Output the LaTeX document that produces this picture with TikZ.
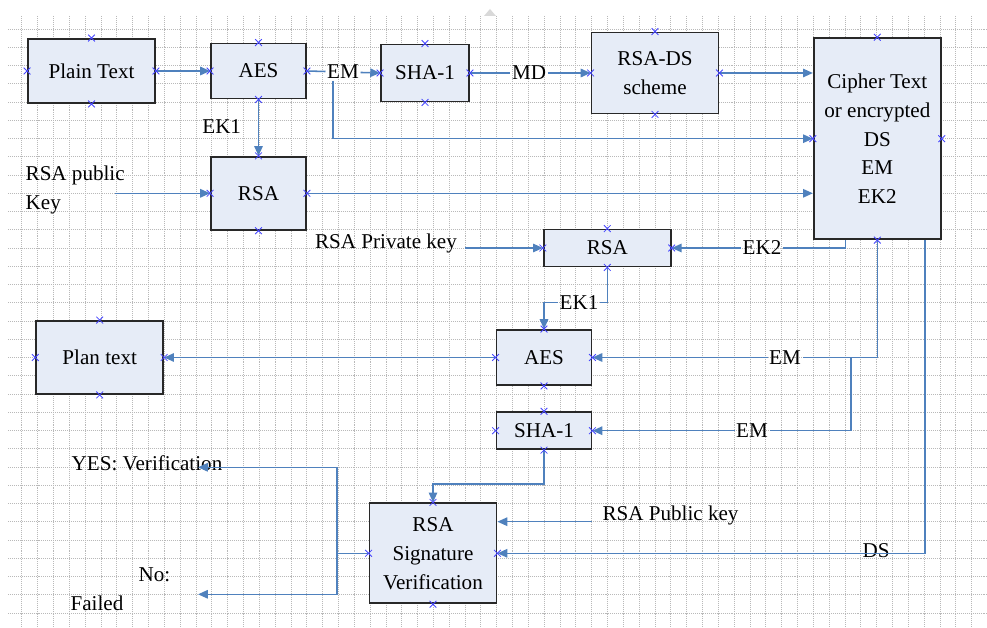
\documentclass[tikz,border=0pt]{standalone}
\usepackage{fontspec}
\setmainfont{Liberation Serif}
\usetikzlibrary{arrows.meta,shapes.misc}
\definecolor{boxfill}{RGB}{230,236,247}
\definecolor{boxline}{RGB}{40,40,40}
\definecolor{linkblue}{RGB}{79,129,189}
\definecolor{ptblue}{RGB}{70,70,255}
\tikzset{
    blk/.style={
        draw=boxline,line width=1.3pt,
        fill=boxfill,
        inner sep=0pt,align=center,
        font=\fontsize{15}{20.6}\selectfont
    },
    sz/.style 2 args={minimum width=#1*0.025cm,minimum height=#2*0.025cm},
    lbl/.style={inner sep=1pt,font=\fontsize{15}{20.6}\selectfont},
    link/.style={draw=linkblue,line width=1.1pt},
    >={Triangle[length=7pt,width=6pt]},
    cpt/.style={cross out,draw=ptblue,line width=0.6pt,minimum size=4.2pt,inner sep=0pt},
    gridln/.style={gray!55,line width=0.4pt,densely dotted},
}

\begin{document}
\begin{tikzpicture}[x=0.025cm,y=-0.025cm]
		\useasboundingbox (0,0) rectangle (987,628);
		% grid of the drawing page
		\foreach \gx in {21.7,37.53,...,987}
		\draw[gridln] (\gx,16) -- (\gx,628);
		\foreach \gy in {29,47.25,...,628}
		\draw[gridln] (8,\gy) -- (987,\gy);
		\fill[gray!30] (484,16) -- (490,9) -- (496,16) -- cycle;

		% sender side
		\node[blk,sz={127}{64}] (pt) at (91.5,71) {Plain Text};
		\node[blk,sz={95}{55}] (aes1) at (258.5,71) {AES};
		\node[blk,sz={88}{57}] (sha1) at (425,73) {SHA-1};
		\node[blk,sz={127}{81}] (rsads) at (655,73) {RSA-DS\\scheme};
		\node[blk,sz={127}{201}] (cipher) at (877.3,138.7) {Cipher Text\\or encrypted\\DS\\EM\\EK2};
		\node[blk,sz={95}{73}] (rsa1) at (258.5,193.3) {RSA};
		% receiver side
		\node[blk,sz={127}{37}] (rsa2) at (607.3,248) {RSA};
		\node[blk,sz={127}{73}] (plan) at (99.7,357.5) {Plan text};
		\node[blk,sz={95}{55}] (aes2) at (544,357.5) {AES};
		\node[blk,sz={95}{37}] (sha2) at (544,430.7) {SHA-1};
		\node[blk,sz={127}{100}] (rsv) at (433,553.3) {RSA\\Signature\\Verification};

		% labels
		\node[lbl] (em1) at (343,72) {EM};
		\node[lbl] (md) at (529,73) {MD};
		\node[lbl] (ek1a) at (221.7,126.7) {EK1};
		\node[lbl,anchor=west,align=left] (pubkey) at (24,190) {RSA public\\Key};
		\node[lbl] (privkey) at (386,243) {RSA Private key};
		\node[lbl] (ek2) at (762,248) {EK2};
		\node[lbl] (ek1b) at (579,302.7) {EK1};
		\node[lbl] (em2) at (785,357.5) {EM};
		\node[lbl] (em3) at (752,430.7) {EM};
		\node[lbl] (rsapub) at (670.5,515) {RSA Public key};
		\node[lbl] (ds) at (876,551) {DS};
		\node[lbl] (yes) at (147,463.3) {YES: Verification};
		\node[lbl] (no) at (154.5,575) {No:};
		\node[lbl] (failed) at (97,603.3) {Failed};

		\coordinate (pubin) at (115,193.3);
		\coordinate (privin) at (465,248);
		\coordinate (pubin2) at (591.7,521.7);
		\coordinate (emsplit) at (851,357.5);
		\coordinate (yesend) at (198,467.3);
		\coordinate (noend) at (198,594.3);

		% connectors
		\draw[link,->] (pt.east) -- (aes1.west);
		\draw[link] (aes1.east) -- (em1);
		\draw[link,->] (em1) -- (sha1.west);
		\draw[link,->] ([xshift=-0.25cm]em1.south) |- (cipher.west);
		\draw[link] (sha1.east) -- (md);
		\draw[link,->] (md) -- (rsads.west);
		\draw[link,->] (rsads.east) -- (rsads.east -| cipher.west);
		\draw[link,->] (aes1.south) -- (rsa1.north);
		\draw[link,->] (pubin) -- (rsa1.west);
		\draw[link,->] (rsa1.east) -- (rsa1.east -| cipher.west);

		\draw[link] ([xshift=-0.79cm]cipher.south) |- (ek2);
		\draw[link,->] (ek2) -- (rsa2.east);
		\draw[link,->] (privin) -- (rsa2.west);
		\draw[link] (rsa2.south) |- (ek1b);
		\draw[link,->] (ek1b) -| (aes2.north);
		\draw[link] (cipher.south) |- (em2);
		\draw[link,->] (em2) -- (aes2.east);
		\draw[link] (emsplit) |- (em3);
		\draw[link,->] (em3) -- (sha2.east);
		\draw[link,->] ([xshift=1.19cm]cipher.south) |- (rsv.east);
		\draw[link,->] (aes2.west) -- (plan.east);
		\draw[link,->] (sha2.south) |- ([yshift=0.46cm]rsv.north) -- (rsv.north);
		\draw[link,->] (pubin2) -- (pubin2 -| rsv.east);
		\draw[link] (rsv.west) -- ++(-31.6,0) coordinate (vsplit);
		\draw[link,->] (vsplit) |- (yesend);
		\draw[link,->] (vsplit) |- (noend);

		% connection points
		\foreach \n in {pt,aes1,sha1,rsads,cipher,rsa1,rsa2,plan,aes2,sha2,rsv}
		\foreach \a in {north,south,east,west}
		\node[cpt] (\n-\a) at (\n.\a) {};
	\end{tikzpicture}
\end{document}
